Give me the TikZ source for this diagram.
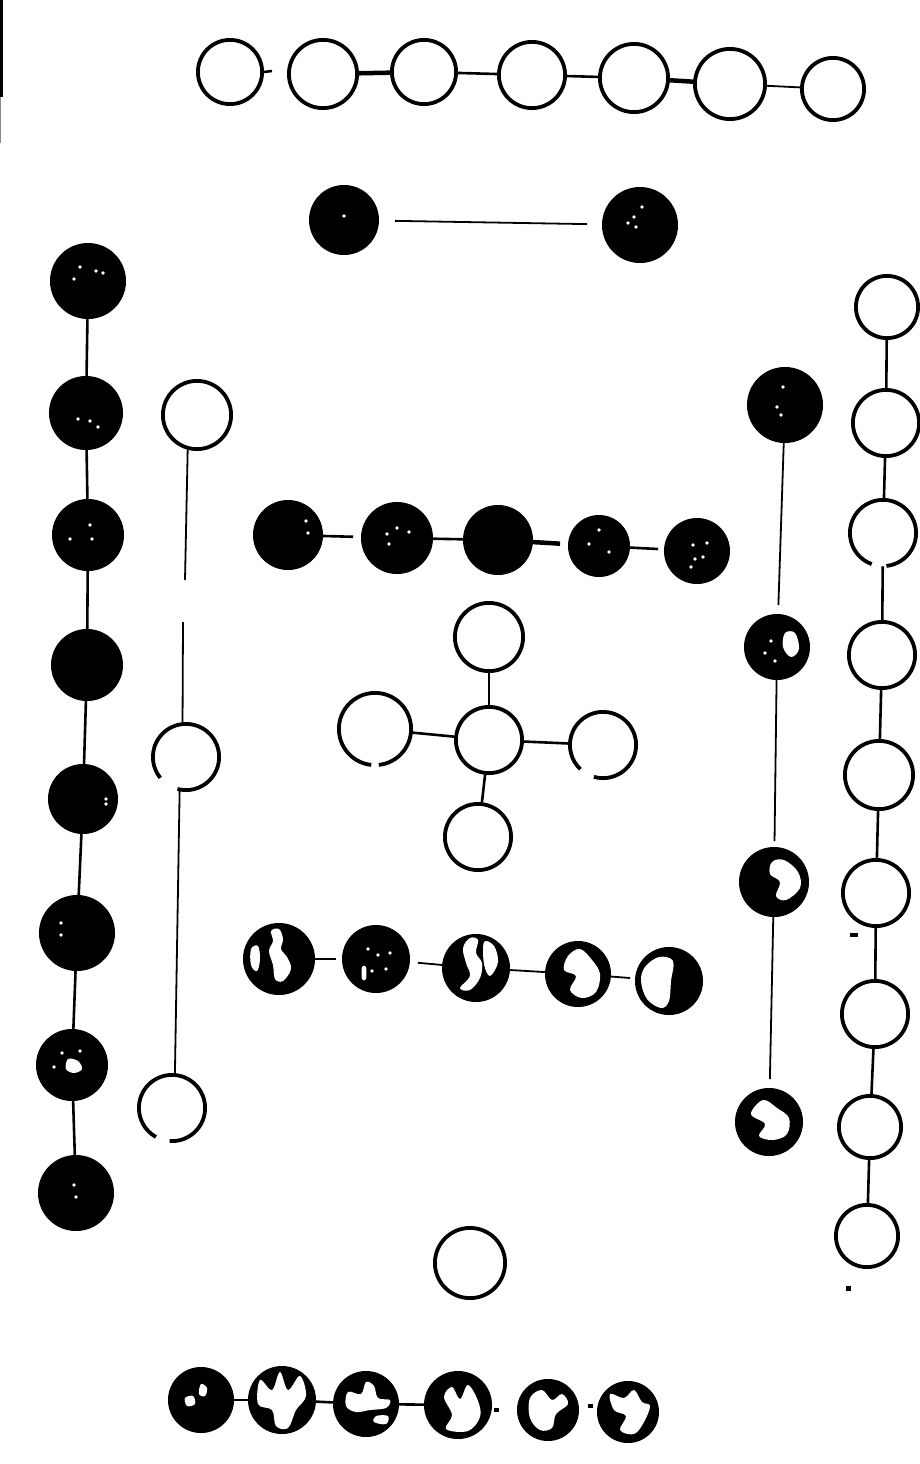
\documentclass[tikz,border=0pt]{standalone}
\begin{document}
\begin{tikzpicture}[x=1pt,y=-1pt,
  ring/.style={line width=3.8pt},
  open/.style={circle,draw=black,line width=3.8pt,inner sep=0pt,minimum size={2*#1pt-3.8pt}},
  gapped/.style={circle,inner sep=0pt,minimum size={2*#1pt-3.8pt}},
  full/.style={circle,fill=black,draw=black,line width=1pt,inner sep=0pt,minimum size={2*#1pt-1pt}},
  link/.style={line width=2.6pt},
  thick link/.style={line width=4.5pt},
  thin link/.style={line width=1.8pt},
  speck/.style={fill=black},
  blot/.style={fill=white}]
\newcommand\gaparc[4]{\draw[ring] ([shift={(#2:#4pt)}]#1.center) arc[start angle=#2,end angle=#3,radius=#4pt];}
\newcommand\blotch[2]{\fill[blot,shift={(#1)}] plot[smooth cycle,tension=0.6] coordinates {#2};}
\newcommand\specks[2]{\foreach \d in {#2} \fill[blot,shift={(#1)}] \d circle[radius=1.8pt];}
\useasboundingbox (0,0) rectangle (920,1464);
\fill[white] (0,0) rectangle (920,1464);
% scan edge at top left
\draw[line width=3pt] (1.5,0) -- (1.5,97);
\draw[line width=1pt,black!45] (0.5,97) -- (0.5,143);

% top row of open circles
\node[open=34] (a1) at (230,72) {};
\node[open=36] (a2) at (323,74) {};
\node[open=34] (a3) at (424,72) {};
\node[open=35] (a4) at (532,75) {};
\node[open=36] (a5) at (634,78) {};
\node[open=37] (a6) at (730,84) {};
\node[open=33] (a7) at (833,89) {};
\draw[link] (a1.east) -- ++(8,-1);
\draw[thick link] (a2) -- (a3);
\draw[link] (a3) -- (a4);
\draw[link] (a4) -- (a5);
\draw[thick link] (a5) -- (a6);
\draw[thin link] (a6) -- (a7);

% pair of filled circles
\node[full=35] (b1) at (344,220) {};
\node[full=38] (b2) at (640,225) {};
\draw[thin link,shorten <=16pt,shorten >=15pt] (b1) -- (b2);
\specks{b1}{(0,-4)}
\specks{b2}{(2,-18),(-6,-8),(-4,2),(-12,-2)}

% left column of filled circles
\node[full=38] (l1) at (88,281) {};
\node[full=37] (l2) at (86,413) {};
\node[full=36] (l3) at (88,535) {};
\node[full=36] (l4) at (87,665) {};
\node[full=35] (l5) at (83,799) {};
\node[full=38] (l6) at (77,933) {};
\node[full=36] (l7) at (72,1065) {};
\node[full=38] (l8) at (76,1193) {};
\foreach \p/\q in {l1/l2,l2/l3,l3/l4,l4/l5,l5/l6,l6/l7,l7/l8}
  \draw[link] (\p) -- (\q);
\specks{l1}{(-8,-14),(8,-10),(15,-8),(-14,-2)}
\specks{l2}{(4,8),(-8,6),(12,14)}
\specks{l3}{(2,-10),(4,4),(-18,4)}
\specks{l5}{(23,0),(23,5)}
\specks{l6}{(-16,-10),(-16,2)}
\blotch{l7}{(-4,-6) (6,-4) (10,4) (2,8) (-6,4)}
\specks{l7}{(-18,2),(8,-14),(-10,-12)}
\specks{l8}{(-2,-8),(0,4)}

% second column of open circles
\node[open=36] (o1) at (197,415) {};
\node[gapped=35] (o2) at (186,757) {};
\node[gapped=35] (o3) at (172,1108) {};
\gaparc{o2}{255}{579}{33.1}
\gaparc{o3}{266}{601}{33.1}
\coordinate (og1) at (185,580);
\coordinate (og2) at (183,622);
\draw[thin link] (o1.-105) -- (og1);
\draw[thin link] (og2) -- (o2.96);
\draw[thin link] (o2.-101) -- (o3.85);

% middle chain of filled circles
\node[full=35] (m1) at (288,535) {};
\node[full=36] (m2) at (397,538) {};
\node[full=35] (m3) at (498,540) {};
\node[full=31] (m4) at (599,546) {};
\node[full=33] (m5) at (697,551) {};
\draw[link,shorten >=8pt] (m1) -- (m2);
\draw[link] (m2) -- (m3);
\draw[thick link,shorten >=8pt] (m3) -- (m4);
\draw[link,shorten >=6pt] (m4) -- (m5);
\specks{m1}{(18,-14),(20,-2)}
\specks{m2}{(-10,-4),(-8,6),(12,-6),(0,-10)}
\specks{m4}{(0,-16),(-10,-2),(10,6)}
\specks{m5}{(-4,-6),(10,-8),(-2,8),(6,6),(-6,16)}

% cross of open circles
\node[open=35] (x0) at (489,740) {};
\node[open=36] (xt) at (489,637) {};
\node[gapped=38] (xl) at (375,729) {};
\node[gapped=35] (xr) at (603,745) {};
\node[open=35] (xb) at (478,837) {};
\gaparc{xl}{-84}{264}{36.1}
\gaparc{xr}{254}{587}{33.1}
\draw[link] (x0) -- (xt);
\draw[link] (x0) -- (xl);
\draw[link] (x0) -- (xr);
\draw[link] (x0) -- (xb);

% row of speckled circles
\node[full=36] (t1) at (279,959) {};
\node[full=34] (t2) at (376,959) {};
\node[full=34] (t3) at (476,968) {};
\node[full=33] (t4) at (578,974) {};
\node[full=34] (t5) at (669,981) {};
\draw[thin link,shorten >=6pt] (t1) -- (t2);
\draw[thin link,shorten <=8pt] (t2) -- (t3);
\draw[thin link] (t3) -- (t4);
\draw[thin link,shorten >=5pt] (t4) -- (t5);
\blotch{t1}{(-8,-28) (0,-30) (4,-20) (2,-10) (8,-2) (12,10) (4,22) (-4,20) (-6,6) (-10,-8) (-6,-18)}
\blotch{t1}{(-28,-10) (-21,-13) (-19,0) (-22,12) (-28,6)}
\specks{t2}{(-8,-10),(2,-4),(14,-6),(-4,12),(10,10)}
\blotch{t2}{(-14,8) (-10,8) (-10,20) (-14,20)}
\blotch{t3}{(-6,-30) (2,-28) (0,-15) (6,-5) (4,10) (-6,22) (-16,20) (-6,8) (-10,-5) (-13,-20)}
\blotch{t3}{(8,-26) (18,-22) (22,-6) (14,8) (8,-4)}
\blotch{t4}{(-10,-18) (2,-25) (14,-14) (22,0) (18,18) (4,24) (-8,16) (-2,2) (-14,-4)}
\blotch{t5}{(-24,-14) (-10,-24) (4,-20) (2,0) (0,20) (-8,27) (-22,18) (-28,0)}

% right inner column of filled circles
\node[full=38] (r1) at (785,405) {};
\node[full=33] (r2) at (777,647) {};
\node[full=35] (r3) at (774,882) {};
\node[full=34] (r4) at (769,1122) {};
\draw[thin link,shorten >=9pt] (r1) -- (r2);
\draw[thin link,shorten >=6pt] (r2) -- (r3);
\draw[thin link,shorten >=9pt] (r3) -- (r4);
\specks{r1}{(-2,-18),(-8,2),(-4,10)}
\blotch{r2}{(8,-14) (18,-14) (22,2) (14,10) (6,0)}
\specks{r2}{(-12,6),(-2,14),(-6,-6)}
\blotch{r3}{(-2,-20) (10,-22) (24,-10) (26,6) (12,18) (2,14) (6,0) (-4,-8)}
\blotch{r4}{(-18,-8) (-6,-22) (8,-14) (20,-4) (18,12) (4,18) (-10,14) (-4,2)}

% right outer column of open circles
\node[open=33] (q1) at (887,307) {};
\node[open=35] (q2) at (886,423) {};
\node[gapped=35] (q3) at (883,533) {};
\node[open=35] (q4) at (882,655) {};
\node[open=36] (q5) at (879,775) {};
\node[open=35] (q6) at (876,893) {};
\node[open=35] (q7) at (875,1014) {};
\node[open=33] (q8) at (870,1127) {};
\node[open=33] (q9) at (867,1236) {};
\gaparc{q3}{276}{610}{33.1}
\foreach \p/\q in {q1/q2,q2/q3,q3/q4,q4/q5,q5/q6,q6/q7,q7/q8,q8/q9}
  \draw[link] (\p) -- (\q);

% single open circle
\node[open=37] (s1) at (470,1263) {};

% bottom row of speckled circles
\node[full=33] (u1) at (201,1400) {};
\node[full=34] (u2) at (282,1400) {};
\node[full=33] (u3) at (366,1404) {};
\node[full=34] (u4) at (458,1405) {};
\node[full=31] (u5) at (548,1410) {};
\node[full=31] (u6) at (628,1412) {};
\draw[link] (u1) -- (u2);
\draw[link] (u2) -- (u3);
\draw[link] (u3) -- (u4);
\blotch{u1}{(0,-16) (6,-12) (4,-4) (-2,-6)}
\blotch{u1}{(-16,-2) (-8,-4) (-6,4) (-14,6)}
\blotch{u2}{(-22,-20) (-10,-10) (-2,-28) (6,-10) (18,-24) (24,-4) (14,10) (6,28) (-6,26) (-10,10) (-24,4)}
\blotch{u3}{(-18,-12) (-5,-10) (0,-22) (8,-18) (12,-6) (24,-4) (20,4) (4,6) (-10,8) (-20,2)}
\blotch{u3}{(10,12) (22,12) (20,20) (8,18)}
\blotch{u4}{(-14,-8) (-6,-18) (2,-6) (10,-20) (20,-4) (22,12) (10,26) (-12,24) (-6,10)}
\blotch{u5}{(-18,-12) (-6,-20) (4,-10) (14,-16) (20,-6) (8,4) (4,18) (-8,20) (-18,8)}
\blotch{u6}{(-18,-18) (-4,-14) (6,-22) (14,-10) (22,-6) (16,10) (6,22) (-8,18) (-2,4) (-14,-2)}

% specks
\fill[speck] (494,1408) rectangle (499,1412);
\fill[speck] (588,1404) rectangle (593,1408);
\fill[speck] (846,1286) rectangle (851,1291);
\fill[speck] (850,933) rectangle (858,937);
\end{tikzpicture}
\end{document}
